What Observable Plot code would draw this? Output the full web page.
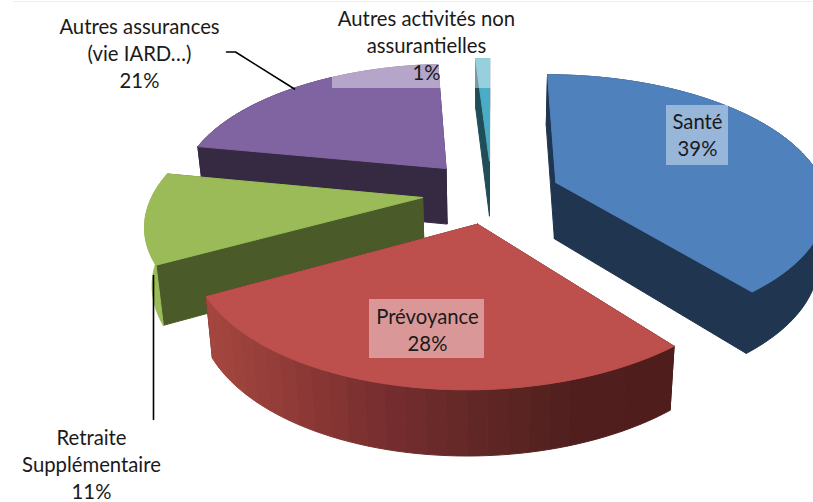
<!DOCTYPE html>
<html lang="fr">
<head>
<meta charset="utf-8">
<script src="https://cdn.jsdelivr.net/npm/d3@7"></script>
<script src="https://cdn.jsdelivr.net/npm/@observablehq/plot@0.6"></script>
<style>
html,body{margin:0;padding:0;background:#fff;overflow:hidden}
svg{display:block}
</style>
</head>
<body>
<div id="chart"></div>
<script>
// Data
const categories = ["Santé", "Prévoyance", "Retraite Supplémentaire", "Autres assurances", "Autres activités"];
const shares = [39, 28, 11, 21, 1];
const labelTexts = ["Santé\n39%", "Prévoyance\n28%", "Retraite\nSupplémentaire\n11%", "Autres assurances\n(vie IARD…)\n21%", "Autres activités non\nassurantielles\n1%"];

// Style + pie geometry (explosion in pie-radius units)
const topColors = ["#4f81bd", "#bd4f4c", "#9bbb59", "#8064a2", "#4bacc6"];
const wallColors = ["#1f3550", "#4f1e1d", "#4a5a28", "#352a42", "#1f4d58"];
const explodeX = [0.248, -0.036, -0.245, -0.17, -0.004];
const explodeY = [-0.098, -0.415, -0.216, 0.0165, 0.08];
const paintOrder = [4, 3, 2, 0, 1];
const redSideStops = ["#a5473f", "#8d3936", "#752c2e", "#5f2725", "#4f1e1d", "#4e1d1c"];
const cam = {cx: 490, cy: 170, A: 262, B: 121, p: 0.155, skew: 6.5, shrink: 0.978, d0: 47.5, d1: 0.048};

const project = (X, Y) => {
  const w = 1 + cam.p * Y;
  return {x: cam.cx + (cam.A * X + cam.skew * Math.min(Y, 0)) / w, y: cam.cy - cam.B * Y / w};
};
const lower = (q) => ({x: cam.cx + cam.shrink * (q.x - cam.cx), y: q.y + cam.d0 + cam.d1 * q.y});

const cumulative = d3.cumsum(shares);
const angleOf = (v) => v / d3.sum(shares) * 2 * Math.PI;

const polys = [];
let pid = 0;
const addPoly = (points, color) => {
  const id = pid++;
  for (const q of [...points, points[0]]) polys.push({id, x: q.x, y: q.y, color});
};

for (const i of paintOrder) {
  const a0 = angleOf(cumulative[i] - shares[i]);
  const a1 = angleOf(cumulative[i]);
  const rim = (a) => project(explodeX[i] + Math.sin(a), explodeY[i] + Math.cos(a));
  const apex = project(explodeX[i], explodeY[i]);
  const steps = d3.range(0, 1.0001, 1 / Math.max(4, Math.ceil(shares[i] * 2))).map((t) => a0 + t * (a1 - a0));
  const arc = steps.map(rim);

  // back wall and front wall, then the outer rim, then the top
  addPoly([apex, rim(a0), lower(rim(a0)), lower(apex)], wallColors[i]);
  addPoly([apex, rim(a1), lower(rim(a1)), lower(apex)], wallColors[i]);
  if (i === 1) {
    const ramp = d3.scaleLinear().domain(d3.range(redSideStops.length).map((k) => 205 + k * 93)).range(redSideStops).interpolate(d3.interpolateRgb).clamp(true);
    // bands of about 20 px, each one a run of arc points, painted right to left
    const perBand = 2;
    for (let k = 0; k < arc.length - 1; k += perBand) {
      const run = arc.slice(k, k + perBand + 1);
      addPoly([...run, ...run.map(lower).reverse()], ramp((run[0].x + run[run.length - 1].x) / 2));
    }
  } else {
    const rimColor = i === 2 ? topColors[i] : wallColors[i];
    addPoly([...arc, ...arc.map(lower).reverse()], rimColor);
  }
  addPoly([apex, ...arc], topColors[i]);
}

const labelRows = labelTexts.map((text, i) => ({text, cat: categories[i]}));
const labelX = [697, 427, 91, 139, 426];
const labelY = [133.5, 328, 463, 51.5, 44];
const boxes = [
  {x1: 666, x2: 728, y1: 105, y2: 165},
  {x1: 369, x2: 484, y1: 299, y2: 358},
  {x1: 332, x2: 520, y1: 6, y2: 88}
];
const leaderA = {xs: [226, 235, 294], ys: [51.5, 51.5, 88.5]};
const leaderB = {xs: [153, 153], ys: [275, 419]};
const toPoints = (l) => l.xs.map((x, k) => ({x, y: l.ys[k]}));

const plot = Plot.plot({
  width: 813,
  height: 502,
  margin: 0,
  style: {background: "#fff", overflow: "hidden"},
  x: {domain: [0, 813], range: [0, 813], axis: null},
  y: {domain: [0, 502], range: [0, 502], axis: null},
  color: {type: "identity"},
  marks: [
    Plot.ruleY([1], {x1: 13, x2: 813, stroke: "#eeeeee", strokeWidth: 1}),
    Plot.line(polys, {x: "x", y: "y", z: "id", fill: "color", stroke: "color", strokeWidth: 1, clip: true}),
    Plot.rect(boxes, {x1: "x1", x2: "x2", y1: "y1", y2: "y2", fill: "#fff", fillOpacity: 0.42}),
    Plot.line(toPoints(leaderA), {x: "x", y: "y", stroke: "#000", strokeWidth: 1.6}),
    Plot.line(toPoints(leaderB), {x: "x", y: "y", stroke: "#000", strokeWidth: 1.6}),
    Plot.text(labelRows, {
      text: "text",
      x: (d, i) => labelX[i],
      y: (d, i) => labelY[i],
      fontFamily: "Lato, 'Noto Sans', sans-serif",
      fontSize: 20.3,
      lineHeight: 1.33,
      fill: "#1a1a1a",
      textAnchor: "middle",
      lineAnchor: "middle"
    })
  ]
});
document.getElementById("chart").appendChild(plot);
</script>
</body>
</html>
